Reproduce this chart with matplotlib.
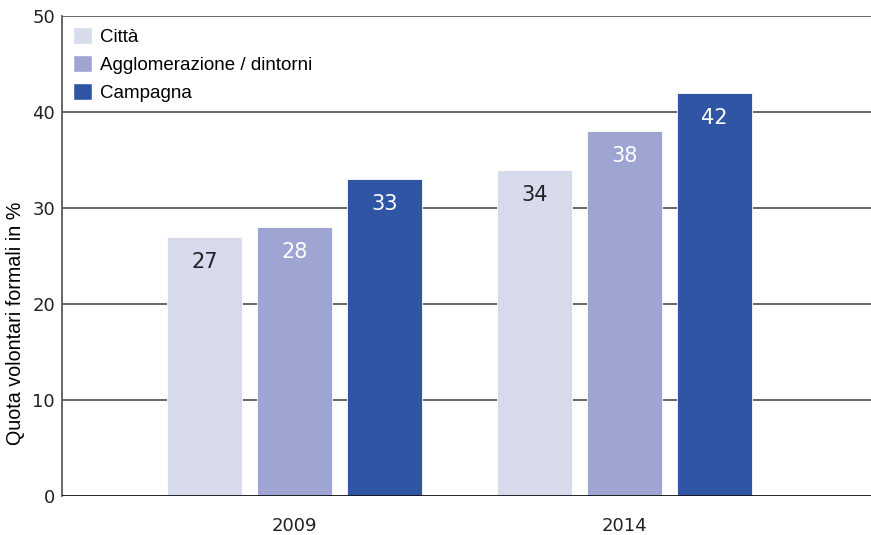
import numpy as np
import matplotlib
matplotlib.use('Agg')
import matplotlib.pyplot as plt
from matplotlib.patches import Patch

# data
years = ['2009', '2014']
series = ['Città', 'Agglomerazione / dintorni', 'Campagna']
citta = [27, 34]
agglo = [28, 38]
campagna = [33, 42]
colors = ['#d8dbec', '#9ea5d3', '#2f55a4']
label_colors = ['#222222', 'white', 'white']

narrow = ['DejaVu Sans Condensed', 'Liberation Sans Narrow', 'DejaVu Sans']
plt.rcParams['font.family'] = ['Liberation Sans', 'DejaVu Sans']

fig = plt.figure(figsize=(8.71, 5.35), dpi=100)
ax = fig.add_axes([62 / 871, 1 - 496 / 535, 1 - 62 / 871, 480 / 535])

x = np.arange(len(years))
width = 75 / 330
step = 90 / 330
for i, vals in enumerate([citta, agglo, campagna]):
    pos = x + (i - 1) * step
    ax.bar(pos, vals, width, color=colors[i], edgecolor='white', linewidth=0.6, zorder=3)
    for p, v in zip(pos, vals):
        ax.text(p, v - 2.6, str(v), ha='center', va='center', fontsize=15,
                color=label_colors[i], family=narrow, zorder=4)

ax.set_xlim(-232.5 / 330, 1 + 246.5 / 330)
ax.set_ylim(0, 50)
ax.set_yticks([0, 10, 20, 30, 40, 50])
ax.set_xticks(x)
ax.set_xticklabels(years)
for lab in ax.get_xticklabels() + ax.get_yticklabels():
    lab.set_family(narrow)
ax.tick_params(axis='y', length=0, pad=5, labelsize=13, colors='#222222')
ax.tick_params(axis='x', length=0, pad=15, labelsize=13, colors='#222222')

for y in [10, 20, 30, 40, 50]:
    ax.axhline(y, color='#5a5a5a', linewidth=1.3, zorder=1)
ax.axhline(0, color='#111111', linewidth=2, zorder=5)

for s in ['top', 'right', 'bottom']:
    ax.spines[s].set_visible(False)
ax.spines['left'].set_color('#5a5a5a')
ax.spines['left'].set_linewidth(1.3)

fig.text(16 / 871, 1 - 323 / 535, 'Quota volontari formali in %', rotation=90,
         ha='center', va='center', fontsize=14.2, color='black')

handles = [Patch(facecolor=c, edgecolor='white') for c in colors]
leg = ax.legend(handles, series, loc='upper left', bbox_to_anchor=(0.0, 1.0),
                frameon=False, fontsize=13.5, handlelength=1.0, handleheight=1.0,
                handletextpad=0.45, labelspacing=0.48, borderaxespad=0.2,
                borderpad=0.4)

fig.savefig('out.png', dpi=100)
